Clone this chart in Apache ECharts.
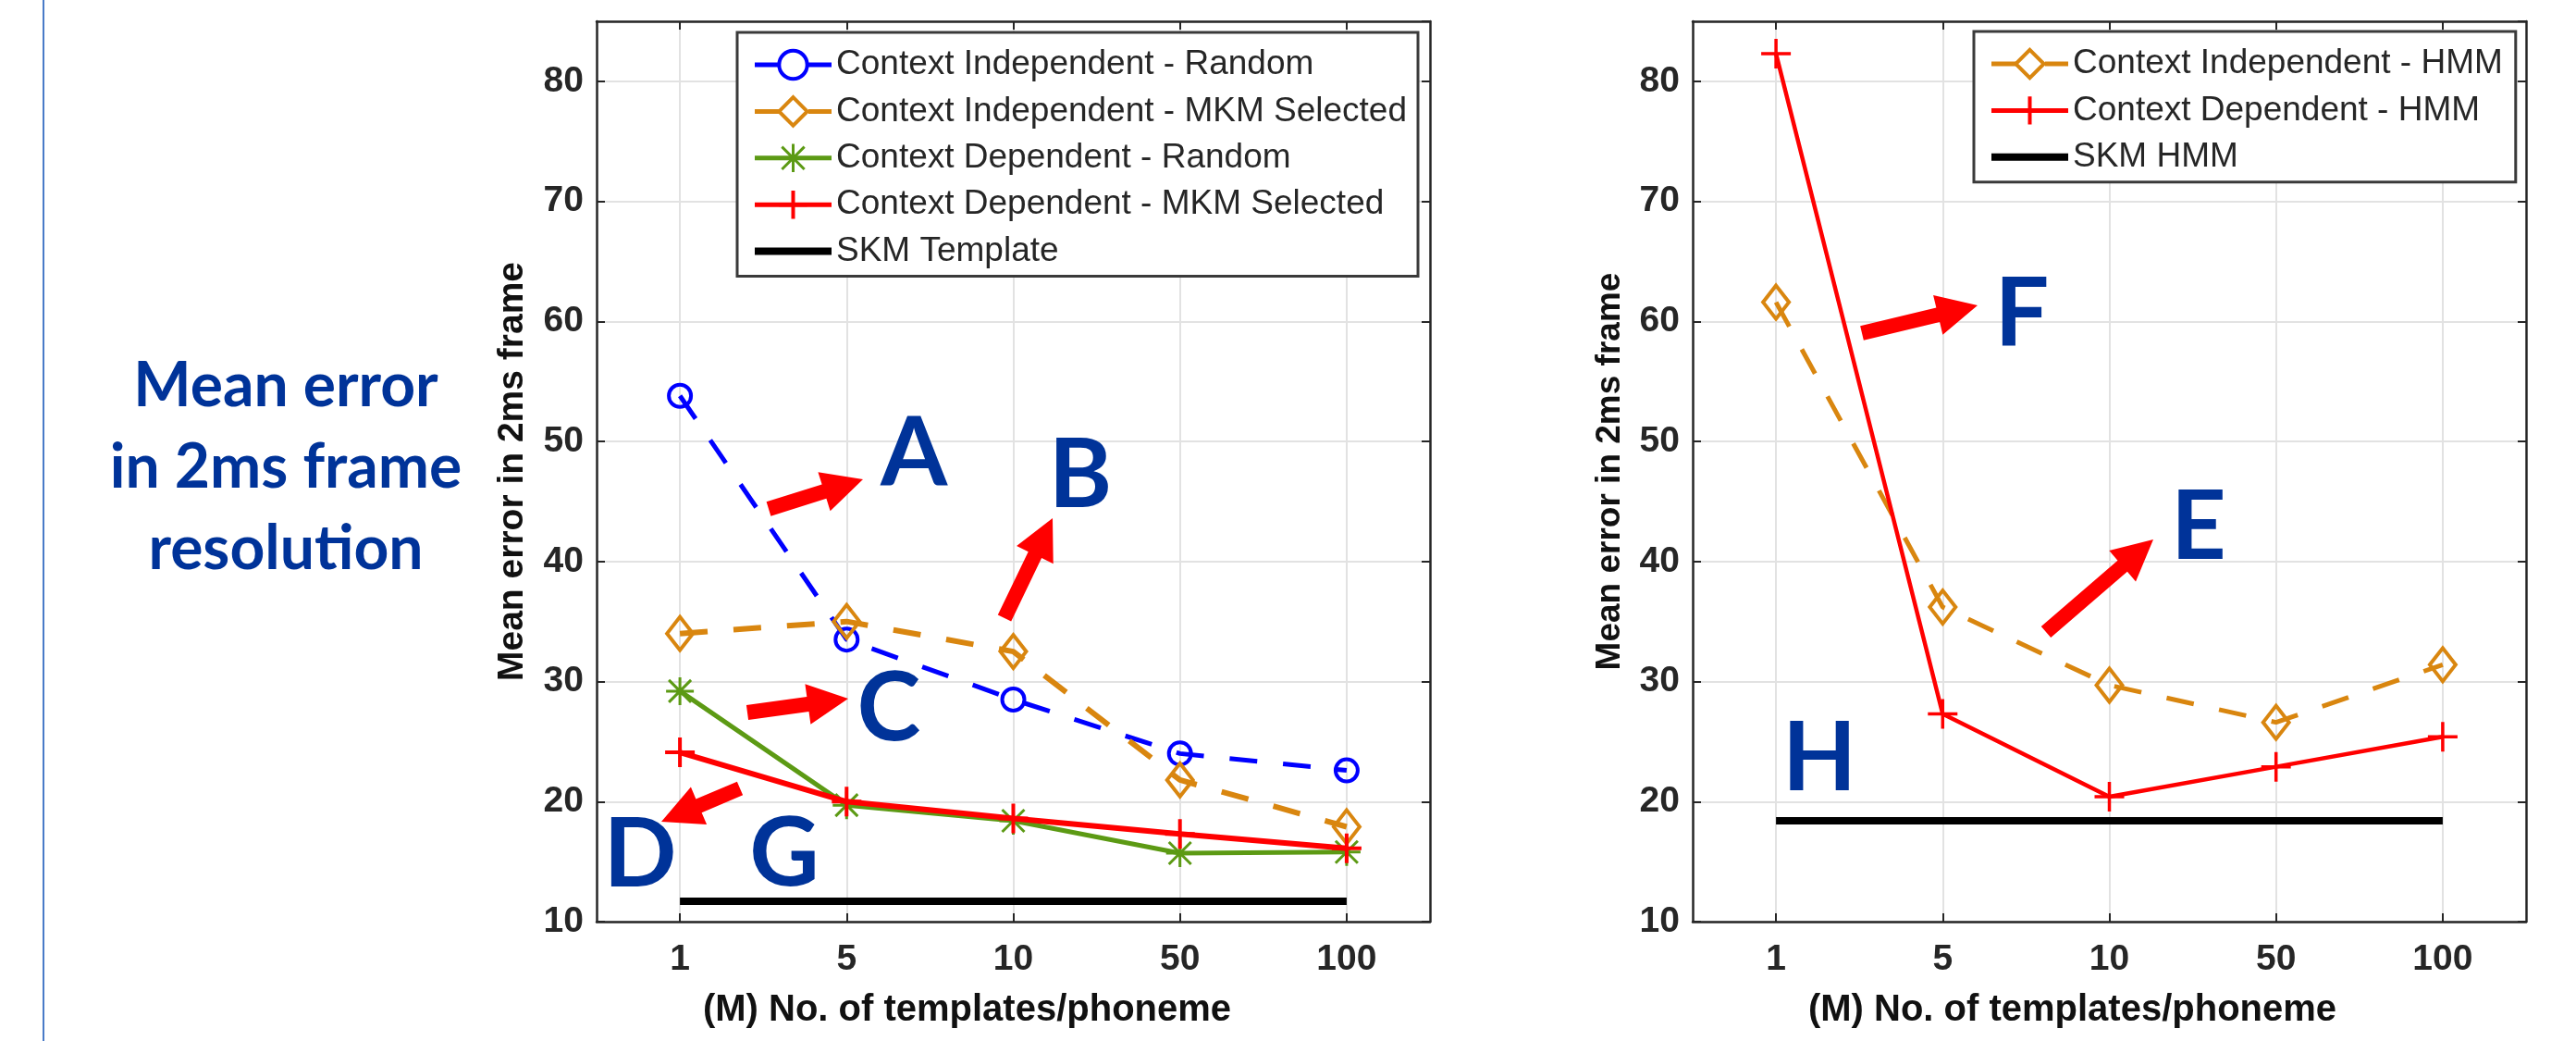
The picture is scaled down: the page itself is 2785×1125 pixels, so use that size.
<!DOCTYPE html>
<html>
<head>
<meta charset="utf-8">
<script src="https://cdn.jsdelivr.net/npm/echarts@6/dist/echarts.min.js"></script>
<style>
html, body { margin: 0; padding: 0; background: #fff; }
#main { width: 2785px; height: 1125px; }
</style>
</head>
<body>
<div id="main"></div>
<script>
// x categories (M) and y scale
var templates = ['1', '5', '10', '50', '100'];
var yMin = 10, yMax = 85, yStep = 10;

// left panel
var ciRandom = [53.8, 33.5, 28.5, 24.0, 22.6];
var ciMkm = [34.0, 35.0, 32.5, 21.8, 17.9];
var cdRandom = [29.2, 19.7, 18.4, 15.7, 15.8];
var cdMkm = [24.1, 20.0, 18.6, 17.3, 16.1];
var skmTemplate = [11.7, 11.7, 11.7, 11.7, 11.7];

// right panel
var ciHmm = [61.6, 36.2, 29.7, 26.6, 31.4];
var cdHmm = [82.3, 27.3, 20.4, 22.9, 25.4];
var skmHmm = [18.4, 18.4, 18.4, 18.4, 18.4];

var axisColor = '#262626';
var font = "'Liberation Sans', Arial, sans-serif";
var blueText = '#003399';
var dash = [30, 28];

var plusPath = 'path://M10,0L10,20M0,10L20,10';
var starPath = 'path://M2,2L18,18M18,2L2,18M10,0L10,20M0,10L20,10';

function mainX(grid, namePad) {
    return {
        type: 'category', gridIndex: grid, data: templates, position: 'bottom',
        axisLine: { show: true, lineStyle: { color: axisColor, width: 2.5 } },
        axisTick: { show: true, inside: true, alignWithLabel: true, length: 9, lineStyle: { color: axisColor, width: 2 } },
        axisLabel: { color: axisColor, fontFamily: font, fontWeight: 'bold', fontSize: 39, margin: 22 },
        splitLine: { show: true, alignWithLabel: true, lineStyle: { color: '#e2e2e2', width: 2 } },
        name: '(M) No. of templates/phoneme', nameLocation: 'middle', nameGap: 76,
        nameTextStyle: { color: '#111', fontFamily: font, fontWeight: 'bold', fontSize: 40, padding: [0, namePad, 0, 0] }
    };
}
function topX(grid) {
    return {
        type: 'category', gridIndex: grid, data: templates, position: 'top',
        axisLine: { show: true, lineStyle: { color: axisColor, width: 2.5 } },
        axisTick: { show: true, inside: true, alignWithLabel: true, length: 9, lineStyle: { color: axisColor, width: 2 } },
        axisLabel: { show: false }, splitLine: { show: false }
    };
}
function mainY(grid, nameSize, gap) {
    return {
        type: 'value', gridIndex: grid, min: yMin, max: yMax, interval: yStep, position: 'left',
        axisLine: { show: true, lineStyle: { color: axisColor, width: 2.5 } },
        axisTick: { show: true, inside: true, length: 9, lineStyle: { color: axisColor, width: 2 } },
        axisLabel: { color: axisColor, fontFamily: font, fontWeight: 'bold', fontSize: 39, margin: 14, showMaxLabel: false },
        splitLine: { show: true, lineStyle: { color: '#e2e2e2', width: 2 } },
        name: 'Mean error in 2ms frame', nameLocation: 'middle', nameGap: gap,
        nameTextStyle: { color: '#111', fontFamily: font, fontWeight: 'bold', fontSize: nameSize }
    };
}
function rightY(grid) {
    return {
        type: 'value', gridIndex: grid, min: yMin, max: yMax, interval: yStep, position: 'right',
        axisLine: { show: true, lineStyle: { color: axisColor, width: 2.5 } },
        axisTick: { show: true, inside: true, length: 9, lineStyle: { color: axisColor, width: 2 } },
        axisLabel: { show: false }, splitLine: { show: false }
    };
}

function lineSeries(name, data, xi, color, opt) {
    return {
        name: name, type: 'line', data: data, xAxisIndex: xi, yAxisIndex: xi,
        symbol: opt.symbol || 'none', symbolSize: opt.size || 0,
        itemStyle: { color: opt.fill || color, borderColor: color, borderWidth: opt.bw || 4 },
        lineStyle: { color: color, width: opt.width, type: opt.dash ? dash : 'solid' },
        emphasis: { disabled: true }, animation: false, z: opt.z || 2
    };
}

// legend entries carry their own line/marker look (fill null = no marker)
function legendItem(name, color, width, isDash, fill, bw) {
    return {
        name: name,
        lineStyle: { color: color, width: width, type: isDash ? dash : 'solid', opacity: 1 },
        itemStyle: fill === null
            ? { opacity: 0, borderWidth: 0 }
            : { color: fill, borderColor: color, borderWidth: bw || 4 }
    };
}

// annotation letters and arrows (pixel positions on the slide)
var letters = [
    ['A', 988, 490], ['B', 1168, 514], ['C', 961, 766], ['D', 692, 924], ['G', 848, 923],
    ['F', 2186, 340], ['E', 2377, 570], ['H', 1967, 820]
];
var arrows = [
    [831, 550, 933, 518], [1086, 668, 1138, 560], [808, 770, 917, 755], [800, 852, 715, 888],
    [2013, 360, 2138, 330], [2212, 683, 2328, 583]
];
function arrowPoints(a) {
    var dx = a[2] - a[0], dy = a[3] - a[1];
    var len = Math.sqrt(dx * dx + dy * dy);
    var ux = dx / len, uy = dy / len, nx = -uy, ny = ux;
    var sw = 8, hw = 22, hl = 44;
    var bx = a[2] - ux * hl, by = a[3] - uy * hl;
    return [
        [a[0] + nx * sw, a[1] + ny * sw], [bx + nx * sw, by + ny * sw], [bx + nx * hw, by + ny * hw],
        [a[2], a[3]],
        [bx - nx * hw, by - ny * hw], [bx - nx * sw, by - ny * sw], [a[0] - nx * sw, a[1] - ny * sw]
    ];
}

var graphics = [
    { type: 'line', shape: { x1: 47, y1: 0, x2: 47, y2: 1125 }, style: { stroke: '#4a7bc8', lineWidth: 2 } },
    {
        type: 'text', x: 309, y: 506,
        style: {
            text: 'Mean error\nin 2ms frame\nresolution', fill: blueText, align: 'center', verticalAlign: 'middle',
            font: "bold 66px Lato, 'Open Sans', sans-serif", lineHeight: 88
        }
    }
];
letters.forEach(function (l) {
    graphics.push({
        type: 'text', x: l[1], y: l[2], z: 10,
        style: { text: l[0], fill: blueText, align: 'center', verticalAlign: 'middle', font: "bold 104px Lato, 'Open Sans', sans-serif" }
    });
});
arrows.forEach(function (a) {
    graphics.push({ type: 'polygon', z: 10, shape: { points: arrowPoints(a) }, style: { fill: '#ff0000' } });
});

var legendBase = {
    orient: 'vertical', itemWidth: 83, itemHeight: 38, itemGap: 12.4,
    backgroundColor: '#fff', borderColor: '#3a3a3a', borderWidth: 3,
    textStyle: { color: '#262626', fontFamily: font, fontSize: 37, lineHeight: 38 }
};

var chart = echarts.init(document.getElementById('main'));
chart.setOption({
    backgroundColor: '#fff',
    animation: false,
    grid: [
        { left: 645, top: 23, width: 901, height: 973 },
        { left: 1830, top: 23, width: 901, height: 973 }
    ],
    xAxis: [mainX(0, 100), topX(0), mainX(1, 80), topX(1)],
    yAxis: [mainY(0, 39, 71), rightY(0), mainY(1, 37, 71), rightY(1)],
    legend: [
        Object.assign({}, legendBase, {
            left: 797, top: 35, padding: [16, 12, 8, 15],
            data: [
                legendItem('Context Independent - Random', '#0000ff', 5, true, '#fff'),
                legendItem('Context Independent - MKM Selected', '#d9860f', 5, true, '#fff'),
                legendItem('Context Dependent - Random', '#5c9a14', 5, false, '#5c9a14', 3),
                legendItem('Context Dependent - MKM Selected', '#ff0000', 5, false, '#ff0000', 4),
                legendItem('SKM Template', '#000000', 8, false, null)
            ]
        }),
        Object.assign({}, legendBase, {
            left: 2134, top: 34, padding: [16, 14, 8, 15],
            data: [
                legendItem('Context Independent - HMM', '#d9860f', 5, true, '#fff'),
                legendItem('Context Dependent - HMM', '#ff0000', 5, false, '#ff0000', 4),
                legendItem('SKM HMM', '#000000', 8, false, null)
            ]
        })
    ],
    graphic: graphics,
    series: [
        lineSeries('Context Independent - Random', ciRandom, 0, '#0000ff', { symbol: 'circle', fill: 'rgba(255,255,255,0)', size: 24, width: 5, dash: true }),
        lineSeries('Context Independent - MKM Selected', ciMkm, 0, '#d9860f', { symbol: 'diamond', fill: 'rgba(255,255,255,0)', size: [28, 36], width: 6, dash: true }),
        lineSeries('Context Dependent - Random', cdRandom, 0, '#5c9a14', { symbol: starPath, size: 30, width: 5, bw: 3 }),
        lineSeries('Context Dependent - MKM Selected', cdMkm, 0, '#ff0000', { symbol: plusPath, size: 32, width: 6, z: 3 }),
        lineSeries('SKM Template', skmTemplate, 0, '#000000', { width: 8 }),
        lineSeries('Context Independent - HMM', ciHmm, 2, '#d9860f', { symbol: 'diamond', fill: 'rgba(255,255,255,0)', size: [28, 36], width: 5, dash: true }),
        lineSeries('Context Dependent - HMM', cdHmm, 2, '#ff0000', { symbol: plusPath, size: 32, width: 4.5, bw: 3.5, z: 3 }),
        lineSeries('SKM HMM', skmHmm, 2, '#000000', { width: 8 })
    ]
});
</script>
</body>
</html>
